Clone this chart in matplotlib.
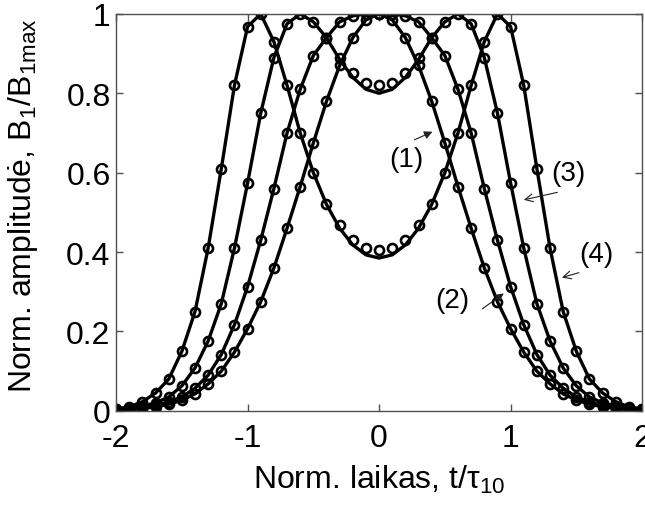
import numpy as np
import matplotlib.pyplot as plt

plt.rcParams['font.family'] = ['Liberation Sans', 'DejaVu Sans']
plt.rcParams['mathtext.fontset'] = 'custom'
plt.rcParams['mathtext.rm'] = 'Liberation Sans'
plt.rcParams['mathtext.it'] = 'Liberation Sans'
plt.rcParams['mathtext.default'] = 'regular'
plt.rcParams['axes.unicode_minus'] = False

# normalised time, step 0.1
t = np.round(np.arange(-2.0, 2.01, 0.1), 1)

# marker values (circles)
b1 = [0.002, 0.003, 0.006, 0.01, 0.017, 0.027, 0.043, 0.068, 0.10, 0.148, 0.207,
      0.275, 0.36, 0.46, 0.565, 0.675, 0.78, 0.87, 0.94, 0.985, 1.0,
      0.985, 0.94, 0.87, 0.78, 0.675, 0.565, 0.46, 0.36, 0.275, 0.207,
      0.148, 0.10, 0.068, 0.043, 0.027, 0.017, 0.01, 0.006, 0.003, 0.002]
b2 = [0.003, 0.005, 0.008, 0.014, 0.022, 0.035, 0.057, 0.09, 0.142, 0.217, 0.313,
      0.43, 0.56, 0.70, 0.81, 0.895, 0.94, 0.98, 0.995, 1.0, 1.0,
      1.0, 0.995, 0.98, 0.94, 0.895, 0.81, 0.70, 0.56, 0.43, 0.313,
      0.217, 0.142, 0.09, 0.057, 0.035, 0.022, 0.014, 0.008, 0.005, 0.003]
b3 = [0.004, 0.007, 0.012, 0.02, 0.035, 0.063, 0.108, 0.176, 0.27, 0.41, 0.574,
      0.75, 0.89, 0.975, 1.0, 0.98, 0.94, 0.89, 0.85, 0.825, 0.82,
      0.825, 0.85, 0.89, 0.94, 0.98, 1.0, 0.975, 0.89, 0.75, 0.574,
      0.41, 0.27, 0.176, 0.108, 0.063, 0.035, 0.02, 0.012, 0.007, 0.004]
b4 = [0.005, 0.01, 0.023, 0.045, 0.08, 0.15, 0.25, 0.41, 0.61, 0.82, 0.968,
      1.0, 0.93, 0.82, 0.70, 0.60, 0.52, 0.468, 0.43, 0.41, 0.404,
      0.41, 0.43, 0.468, 0.52, 0.60, 0.70, 0.82, 0.93, 1.0, 0.968,
      0.82, 0.61, 0.41, 0.25, 0.15, 0.08, 0.045, 0.023, 0.01, 0.005]

# solid line values (differ from markers only in the dips)
l3 = [0.004, 0.007, 0.012, 0.02, 0.035, 0.063, 0.108, 0.176, 0.27, 0.41, 0.574,
      0.75, 0.89, 0.975, 1.0, 0.98, 0.94, 0.885, 0.84, 0.81, 0.80,
      0.81, 0.84, 0.885, 0.94, 0.98, 1.0, 0.975, 0.89, 0.75, 0.574,
      0.41, 0.27, 0.176, 0.108, 0.063, 0.035, 0.02, 0.012, 0.007, 0.004]
l4 = [0.005, 0.01, 0.023, 0.045, 0.08, 0.15, 0.25, 0.41, 0.61, 0.82, 0.968,
      1.0, 0.93, 0.82, 0.70, 0.60, 0.52, 0.46, 0.418, 0.393, 0.385,
      0.393, 0.418, 0.46, 0.52, 0.60, 0.70, 0.82, 0.93, 1.0, 0.968,
      0.82, 0.61, 0.41, 0.25, 0.15, 0.08, 0.045, 0.023, 0.01, 0.005]

fig = plt.figure(figsize=(6.45, 5.06), dpi=100)
ax = fig.add_axes([0.180, 0.186, 0.8155, 0.7846])

for line, marks in [(b1, b1), (b2, b2), (l3, b3), (l4, b4)]:
    ax.plot(t, line, 'k-', linewidth=2.4)
    ax.plot(t, marks, 'o', color='k', markerfacecolor='none',
            markersize=6.5, markeredgewidth=1.9)

fs = 23
ax.set_xlim(-2, 2)
ax.set_ylim(0, 1)
ax.set_xticks([-2, -1, 0, 1, 2])
ax.set_xticklabels(['-2', '-1', '0', '1', '2'])
ax.set_yticks([0, 0.2, 0.4, 0.6, 0.8, 1])
ax.set_yticklabels(['0', '0.2', '0.4', '0.6', '0.8', '1'])
ax.tick_params(direction='in', length=5, width=1, color='#505050',
               top=True, right=True, labelsize=fs)
ax.tick_params(axis='x', pad=9)
ax.tick_params(axis='y', pad=4)
for s in ax.spines.values():
    s.set_color('#505050')
    s.set_linewidth(1)

ax.set_xlabel('Norm. laikas, t/\u03c4$_{10}$', fontsize=fs, labelpad=7)
ax.set_ylabel('Norm. amplitudė, B$_1$/B$_{1max}$', fontsize=fs)
ax.yaxis.set_label_coords(-0.145, 0.52)

# curve labels with arrows
lab_fs = 20
arr = dict(arrowstyle='-|>', color='#202020', lw=0.8, mutation_scale=12)
arr_open = dict(arrowstyle='->', color='#202020', lw=0.8, mutation_scale=14)
ax.text(0.205, 0.635, '(1)', fontsize=lab_fs, ha='center', va='center')
ax.annotate('', xy=(0.425, 0.706), xytext=(0.25, 0.68), arrowprops=arr)
ax.text(0.555, 0.28, '(2)', fontsize=lab_fs, ha='center', va='center')
ax.annotate('', xy=(0.965, 0.30), xytext=(0.768, 0.253), arrowprops=arr)
ax.text(1.44, 0.60, '(3)', fontsize=lab_fs, ha='center', va='center')
ax.annotate('', xy=(1.08, 0.53), xytext=(1.376, 0.552), arrowprops=arr_open)
ax.text(1.65, 0.395, '(4)', fontsize=lab_fs, ha='center', va='center')
ax.annotate('', xy=(1.37, 0.334), xytext=(1.54, 0.35), arrowprops=arr_open)

fig.savefig('out.png', dpi=100)
